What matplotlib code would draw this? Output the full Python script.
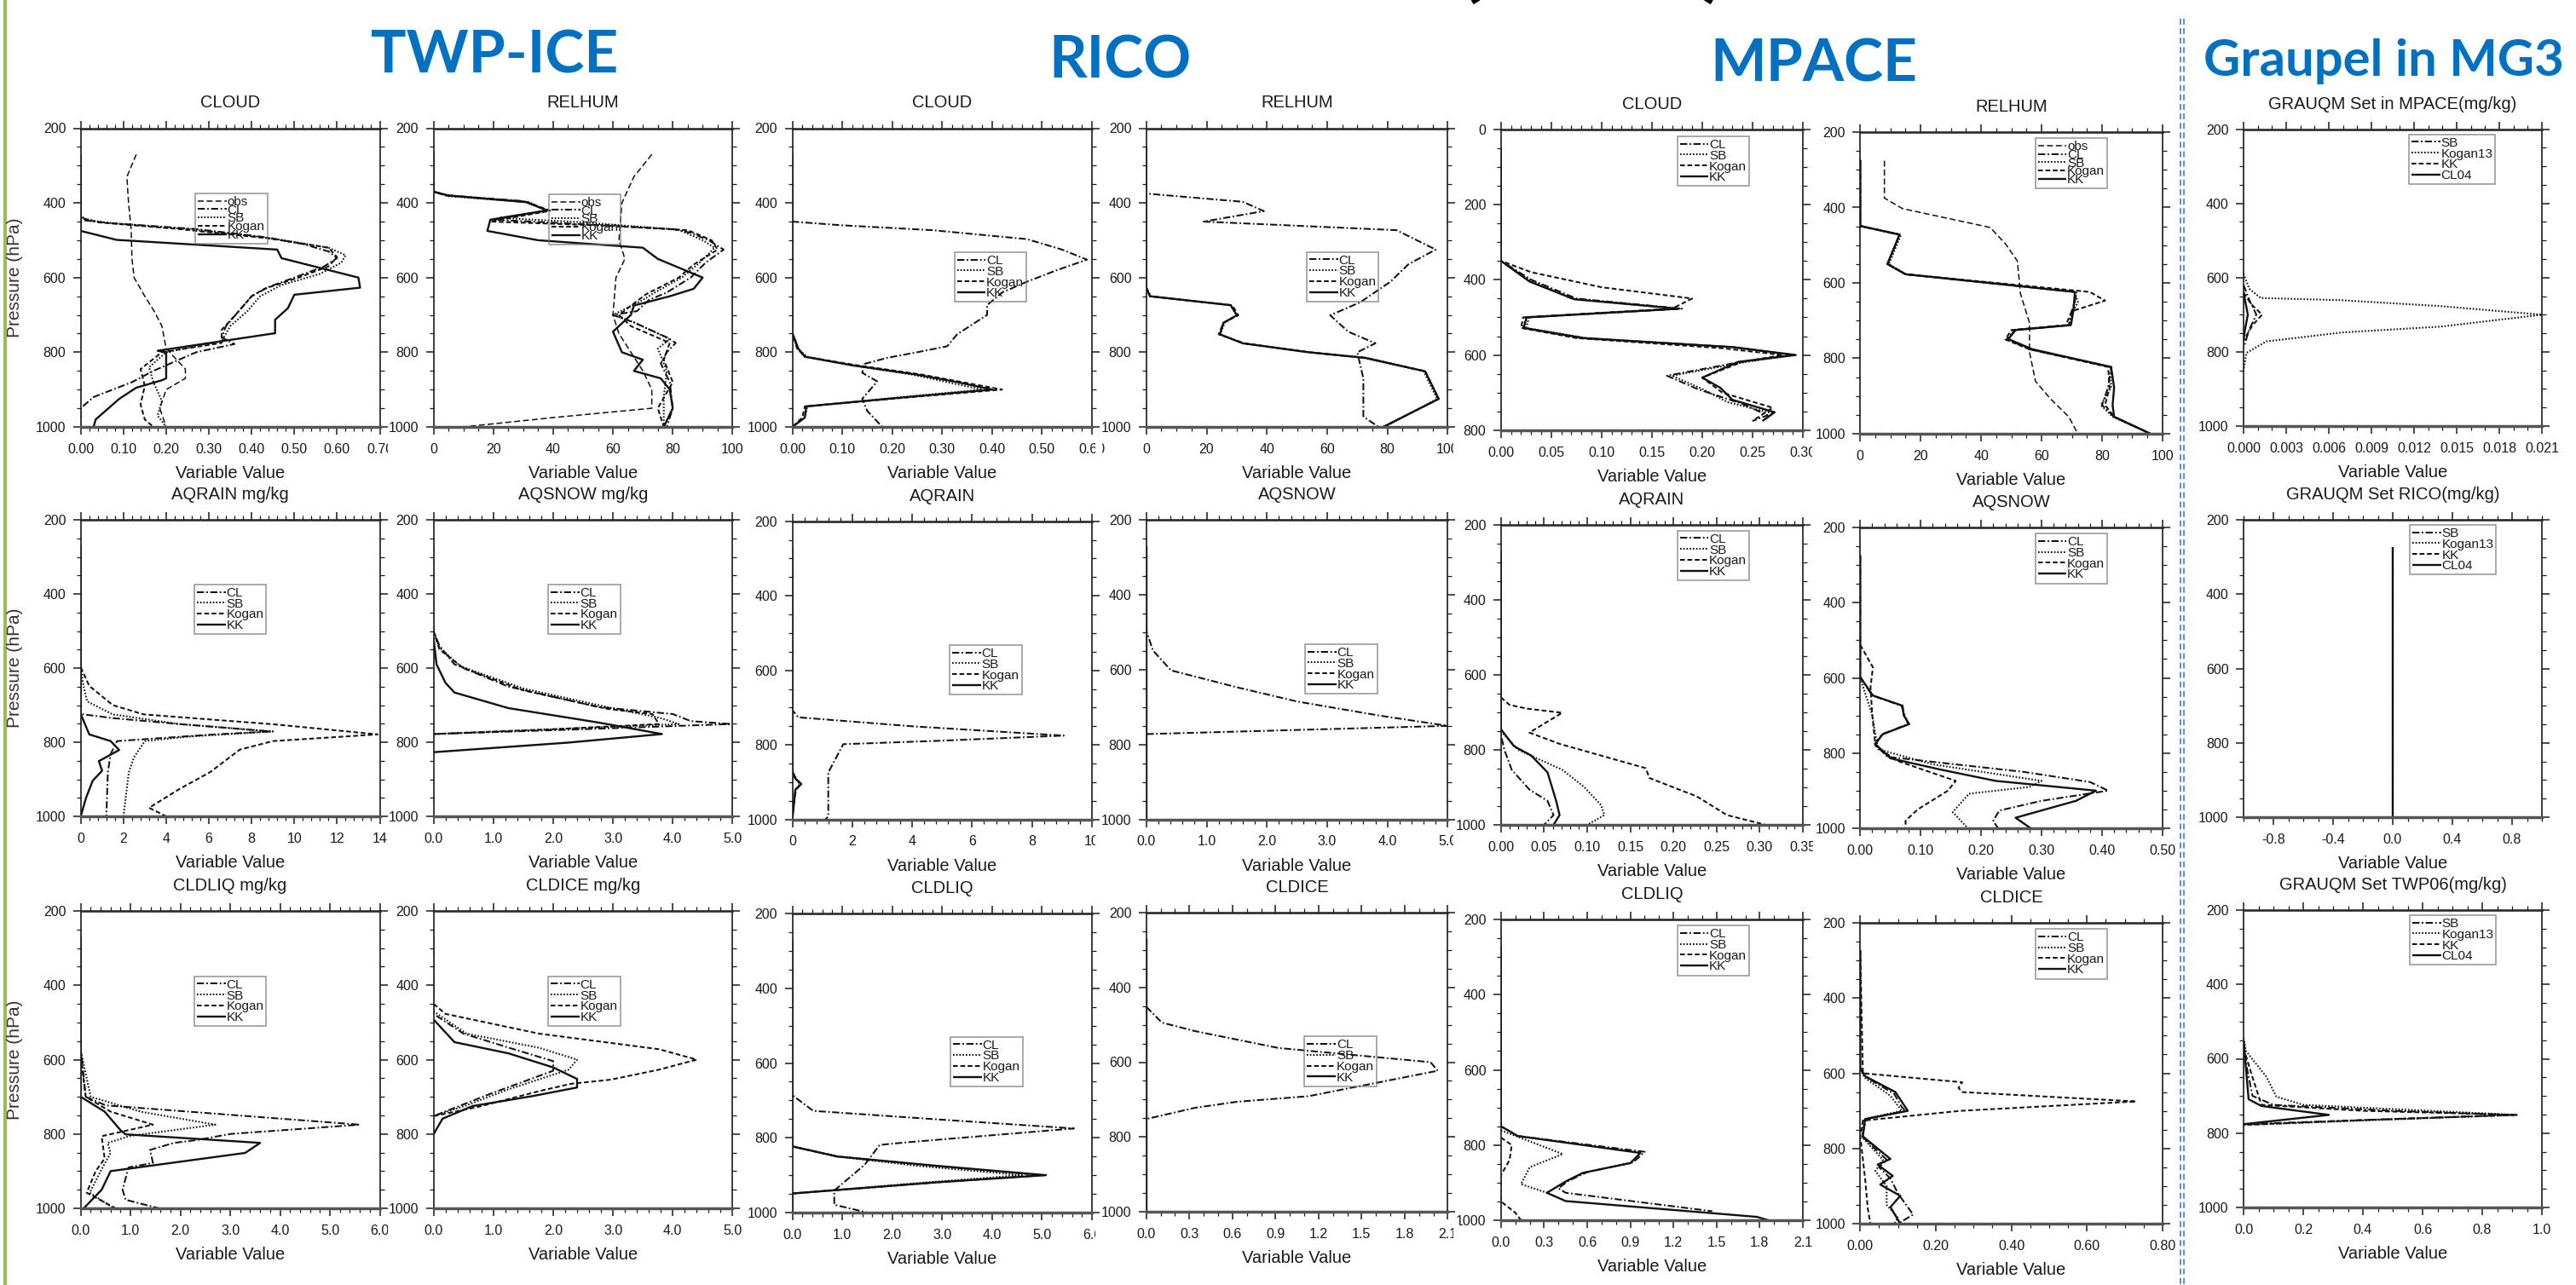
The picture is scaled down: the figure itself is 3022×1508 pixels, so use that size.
import matplotlib
matplotlib.use("Agg")
import matplotlib.pyplot as plt
from matplotlib.lines import Line2D
from matplotlib.patches import Rectangle
from matplotlib.ticker import MultipleLocator

W, H, DPI = 3022, 1508, 100
plt.rcParams['font.family'] = ['Liberation Sans', 'DejaVu Sans']
plt.rcParams['lines.scale_dashes'] = False

# ------------------------------------------------------------------ DATA
# each series: list of (pressure hPa, value)
# Row 1 -- TWP-ICE CLOUD
twp_cloud_obs = [(270,0.13),(330,0.108),(400,0.112),(470,0.118),(550,0.12),(600,0.125),(650,0.15),(690,0.172),(730,0.19),(790,0.2),(845,0.245),(870,0.245),(900,0.2),(950,0.185),(1000,0.2)]
twp_cloud_cl = [(270,0),(430,0),(447,0.01),(455,0.08),(470,0.27),(490,0.42),(510,0.52),(530,0.58),(548,0.6),(570,0.57),(600,0.5),(625,0.44),(650,0.4),(690,0.37),(730,0.34),(760,0.33),(778,0.36),(800,0.27),(830,0.21),(850,0.17),(880,0.12),(920,0.03),(950,0.0),(1000,0.0)]
twp_cloud_sb = [(270,0),(440,0),(452,0.05),(470,0.25),(495,0.45),(520,0.58),(540,0.62),(560,0.61),(590,0.56),(620,0.47),(650,0.42),(690,0.39),(730,0.35),(770,0.33),(800,0.2),(840,0.16),(880,0.17),(930,0.19),(970,0.18),(1000,0.2)]
twp_cloud_kogan = [(270,0),(440,0),(452,0.04),(470,0.23),(495,0.44),(520,0.58),(545,0.6),(570,0.58),(600,0.51),(630,0.43),(650,0.4),(690,0.37),(740,0.33),(775,0.33),(800,0.19),(845,0.14),(890,0.15),(940,0.14),(980,0.15),(1000,0.17)]
twp_cloud_kk = [(270,0),(475,0),(499,0.084),(525,0.46),(548,0.47),(600,0.65),(627,0.654),(646,0.5),(682,0.485),(713,0.455),(749,0.455),(796,0.18),(800,0.2),(870,0.2),(875,0.19),(895,0.13),(925,0.09),(980,0.035),(1000,0.03)]
# TWP-ICE RELHUM
twp_rh_obs = [(270,73),(330,67),(400,63),(500,62),(550,64),(600,61),(700,60),(750,62),(800,66),(850,70),(900,73),(950,73),(975,40),(1000,10)]
twp_rh_cl = [(265,0),(370,0),(380,5),(395,30),(420,38),(445,20),(455,45),(470,80),(480,86),(500,92),(525,97),(560,91),(600,86),(640,78),(660,72),(690,68),(700,60),(720,67),(760,78),(775,81),(800,78),(830,76),(880,79),(950,80),(1000,78)]
twp_rh_sb = [(265,0),(370,0),(382,5),(398,32),(422,38),(440,22),(452,50),(472,82),(500,90),(520,94),(560,89),(600,83),(640,74),(660,70),(700,60),(720,67),(765,79),(790,75),(850,78),(920,77),(1000,77)]
twp_rh_kogan = [(265,0),(370,0),(380,4),(397,31),(421,39),(450,19),(460,55),(473,85),(500,93),(525,95),(565,87),(600,82),(645,71),(700,62),(730,66),(775,79),(820,77),(880,80),(950,75),(1000,77)]
twp_rh_kk = [(265,0),(370,0),(380,5),(398,31),(420,38),(445,19),(475,18),(500,35),(520,70),(550,75),(600,90),(630,87),(650,79),(675,67),(700,66),(745,60),(800,63),(820,70),(850,67),(870,76),(900,79),(950,80),(1000,77)]
# RICO CLOUD
rico_cloud_cl = [(270,0),(450,0),(460,0.1),(473,0.28),(497,0.47),(525,0.54),(552,0.59),(580,0.53),(611,0.47),(640,0.42),(674,0.39),(700,0.39),(752,0.33),(784,0.31),(800,0.25),(815,0.19),(831,0.145),(855,0.14),(878,0.17),(925,0.14),(957,0.15),(1000,0.18)]
rico_cloud_sb = [(270,0),(750,0),(790,0.01),(812,0.03),(835,0.12),(860,0.24),(880,0.31),(900,0.38),(920,0.22),(945,0.03),(975,0.025),(1000,0)]
rico_cloud_kogan = [(270,0),(750,0),(790,0.01),(812,0.025),(835,0.13),(860,0.26),(880,0.34),(900,0.42),(920,0.24),(945,0.025),(975,0.02),(1000,0)]
rico_cloud_kk = [(270,0),(748,0),(790,0.012),(812,0.025),(835,0.12),(860,0.25),(880,0.33),(900,0.4),(920,0.23),(945,0.028),(975,0.025),(1000,0)]
# RICO RELHUM
rico_rh_cl = [(250,0),(375,0),(397,32),(422,39),(450,19),(473,83),(525,96),(564,87),(611,81),(666,71),(701,61),(745,67),(776,76),(800,70),(870,72),(972,72),(1000,77)]
rico_rh_sb = [(250,0),(627,0),(650,1.5),(674,28),(701,30),(721,26),(752,24.5),(776,32),(800,54),(815,72),(851,92),(925,96.5),(1000,79)]
rico_rh_kogan = [(250,0),(627,0),(650,1.2),(674,28.5),(701,30.5),(721,25.6),(752,24),(776,32.5),(800,54),(815,73),(851,92.5),(925,97),(1000,78.6)]
rico_rh_kk = [(250,0),(627,0),(650,1.2),(674,28),(701,30),(721,25.6),(752,24.4),(776,32),(800,53.8),(815,72.6),(851,92.5),(925,97),(1000,78.6)]
# MPACE CLOUD (level axis 0-800)
mpace_cloud_cl = [(50,0),(350,0),(400,0.03),(450,0.075),(477,0.18),(500,0.025),(528,0.022),(555,0.08),(579,0.23),(600,0.29),(620,0.235),(655,0.165),(690,0.195),(730,0.24),(760,0.265),(775,0.25)]
mpace_cloud_sb = [(50,0),(350,0),(400,0.028),(450,0.07),(477,0.175),(500,0.028),(528,0.025),(555,0.085),(580,0.235),(600,0.29),(620,0.24),(655,0.17),(690,0.2),(725,0.225),(755,0.27),(775,0.26)]
mpace_cloud_kogan = [(50,0),(350,0),(380,0.03),(420,0.1),(450,0.19),(477,0.17),(500,0.022),(528,0.02),(555,0.075),(582,0.22),(600,0.28),(618,0.24),(660,0.2),(700,0.22),(740,0.27),(775,0.25)]
mpace_cloud_kk = [(50,0),(350,0),(405,0.0285),(452,0.073),(477,0.177),(500,0.0255),(528,0.0226),(555,0.082),(579,0.23),(600,0.293),(618,0.236),(660,0.2),(687,0.218),(719,0.23),(752,0.272),(775,0.26)]
# MPACE RELHUM
mpace_rh_obs = [(276,8),(375,8),(403,14),(453,43),(496,48),(542,52),(628,53),(706,56),(784,56),(861,58),(908,63),(955,69),(1000,72)]
mpace_rh_cl = [(274,0),(449,0),(472,13),(550,9),(577,15),(624,71.5),(650,71),(675,70),(712,69),(725,51),(749,48.5),(776,56),(823,83),(877,82),(924,80),(955,84),(1000,96)]
mpace_rh_sb = [(274,0),(449,0),(472,13.5),(550,9.5),(577,15),(624,71),(650,72),(675,70.5),(712,69),(725,51),(749,49),(776,56.5),(823,83),(877,83),(924,79.6),(955,83.5),(1000,96)]
mpace_rh_kogan = [(274,0),(449,0),(472,13),(550,9),(577,15),(624,76),(647,81),(675,70),(712,68),(725,50),(750,48),(776,56),(823,82),(877,82.5),(924,81),(955,84),(1000,96)]
mpace_rh_kk = [(274,0),(449,0),(472,13),(550,9),(577,15),(624,71),(628,71),(675,70.5),(712,69.7),(725,51.4),(749,49),(776,57),(823,83),(877,84),(924,83.5),(955,84),(1000,96)]
# Graupel MPACE
gr_mpace_sb = [(620,0),(660,0.0004),(700,0.0009),(740,0.0004),(790,0)]
gr_mpace_kogan13 = [(590,0),(630,0.0004),(655,0.0012),(661,0.0069),(677,0.0139),(700,0.021),(732,0.0139),(748,0.0069),(772,0.0016),(803,0.0002),(850,0)]
gr_mpace_kk = [(640,0),(670,0.0005),(700,0.0013),(730,0.0006),(770,0)]
gr_mpace_cl04 = [(640,0),(680,0.0002),(700,0.0003),(740,0.0001),(770,0)]

# Row 2 -- TWP-ICE AQRAIN
twp_rain_cl = [(270,0),(724,0),(735,1.5),(751,4.6),(771,8.9),(780,6.0),(797,1.7),(832,1.4),(881,1.27),(1000,1.2)]
twp_rain_sb = [(590,0),(640,0.1),(690,0.3),(725,1.5),(751,4.6),(771,9.0),(785,5.0),(797,3.0),(840,2.5),(881,2.25),(1000,2.0)]
twp_rain_kogan = [(598,0),(648,0.4),(700,1.5),(725,2.95),(752,9.1),(779,13.9),(797,9.0),(820,7.45),(881,6.05),(927,4.6),(977,3.2),(1000,4.0)]
twp_rain_kk = [(269,0),(724,0),(779,0.4),(797,1.4),(821,1.8),(851,0.85),(877,1.0),(904,0.56),(950,0.25),(1000,0)]
# TWP-ICE AQSNOW
twp_snow_cl = [(270,0),(500,0),(540,0.1),(590,0.35),(650,1.25),(705,2.76),(724,4.0),(743,4.3),(751,4.97),(765,2.5),(778,0)]
twp_snow_sb = [(500,0),(545,0.1),(595,0.45),(655,1.5),(705,2.9),(735,3.8),(751,4.1),(765,2.0),(778,0)]
twp_snow_kogan = [(500,0),(550,0.1),(600,0.5),(660,1.5),(710,2.9),(724,3.66),(751,3.77),(765,2.0),(778,0)]
twp_snow_kk = [(520,0),(590,0.05),(640,0.2),(666,0.35),(708,1.25),(747,2.76),(778,3.82),(801,2.26),(827,0)]
# RICO AQRAIN
rico_rain_cl = [(270,0),(707,0),(726,0.2),(750,4.0),(775,9.06),(789,4.86),(798,1.7),(874,1.2),(992,1.2),(1000,1.1)]
rico_rain_sb = [(270,0),(870,0),(890,0.1),(905,0.25),(920,0.1),(960,0.05),(1000,0)]
rico_rain_kogan = [(270,0),(870,0),(890,0.12),(905,0.3),(920,0.12),(960,0.05),(1000,0)]
rico_rain_kk = [(270,0),(870,0),(890,0.1),(905,0.3),(920,0.1),(960,0.05),(1000,0)]
# RICO AQSNOW
rico_snow_cl = [(270,0),(496,0),(549,0.11),(602,0.41),(647,1.5),(685,2.5),(723,3.88),(750,5.0),(772,0)]
rico_snow_sb = [(270,0),(1000,0)]
rico_snow_kogan = [(270,0),(1000,0)]
rico_snow_kk = [(270,0),(1000,0)]
# MPACE AQRAIN
mpace_rain_cl = [(270,0),(760,0),(800,0.004),(853,0.0125),(906,0.033),(936,0.054),(974,0.061),(1000,0.05)]
mpace_rain_sb = [(750,0),(800,0.02),(853,0.071),(898,0.096),(947,0.116),(974,0.12),(1000,0.1)]
mpace_rain_kogan = [(660,0),(680,0.01),(690,0.03),(701,0.071),(754,0.033),(784,0.068),(849,0.168),(875,0.172),(924,0.227),(974,0.262),(1000,0.307)]
mpace_rain_kk = [(270,0),(745,0),(790,0.015),(815,0.035),(860,0.054),(936,0.064),(974,0.068),(1000,0.061)]
# MPACE AQSNOW
mpace_snow_cl = [(274,0),(598,0),(647,0.02),(674,0.068),(723,0.079),(750,0.036),(776,0.024),(810,0.045),(850,0.27),(877,0.38),(900,0.41),(927,0.3),(953,0.23),(980,0.22),(1000,0.228)]
mpace_snow_sb = [(600,0),(650,0.01),(700,0.02),(750,0.025),(790,0.03),(830,0.12),(874,0.3),(890,0.28),(908,0.18),(957,0.153),(1000,0.178)]
mpace_snow_kogan = [(512,0),(572,0.021),(625,0.017),(700,0.02),(780,0.025),(820,0.06),(874,0.158),(900,0.145),(950,0.095),(980,0.075),(1000,0.075)]
mpace_snow_kk = [(274,0),(598,0),(647,0.021),(674,0.07),(700,0.072),(723,0.081),(750,0.037),(776,0.025),(814,0.05),(844,0.133),(874,0.224),(900,0.39),(927,0.357),(972,0.257),(1000,0.282)]
# Graupel RICO
gr_rico_sb = [(273,0),(1000,0)]
gr_rico_kogan13 = [(273,0),(1000,0)]
gr_rico_kk = [(273,0),(1000,0)]
gr_rico_cl04 = [(273,0),(1000,0)]

# Row 3 -- TWP-ICE CLDLIQ
twp_liq_cl = [(270,0),(568,0),(700,0.1),(723,0.5),(775,5.6),(800,3.0),(816,2.35),(824,1.87),(843,1.39),(878,1.45),(890,0.96),(950,0.84),(977,0.9),(1000,1.57)]
twp_liq_sb = [(270,0),(576,0),(700,0.2),(740,1.2),(775,2.7),(805,1.0),(824,0.54),(851,0.6),(900,0.4),(958,0.18),(1000,0.66)]
twp_liq_kogan = [(591,0),(700,0.1),(740,0.6),(775,1.45),(806,0.42),(866,0.48),(900,0.3),(958,0.12),(1000,0.7)]
twp_liq_kk = [(270,0),(700,0),(740,0.48),(790,0.8),(801,0.9),(824,3.6),(851,3.3),(900,0.6),(950,0.42),(1000,0.06)]
# TWP-ICE CLDICE
twp_ice_cl = [(270,0),(477,0),(530,0.5),(570,1.3),(604,2.0),(630,2.0),(692,0.95),(752,0)]
twp_ice_sb = [(470,0),(530,0.55),(568,1.76),(600,2.4),(627,2.26),(680,1.25),(723,0.55),(752,0)]
twp_ice_kogan = [(450,0),(477,0.2),(530,1.76),(572,3.77),(600,4.4),(627,3.77),(654,2.96),(665,2.3),(685,1.76),(727,0.75),(752,0)]
twp_ice_kk = [(492,0),(553,0.35),(583,1.25),(621,2.0),(652,2.4),(675,2.4),(698,1.66),(725,0.65),(759,0.15),(801,0)]
# RICO CLDLIQ
rico_liq_cl = [(270,0),(686,0),(728,0.42),(751,2.93),(775,5.64),(812,2.3),(819,1.75),(872,1.45),(941,0.84),(979,0.84),(1000,1.5)]
rico_liq_sb = [(270,0),(823,0),(850,0.9),(875,2.5),(900,4.6),(919,2.7),(949,0),(1000,0)]
rico_liq_kogan = [(270,0),(823,0),(850,0.9),(875,2.8),(900,5.0),(919,2.9),(949,0),(1000,0)]
rico_liq_kk = [(270,0),(823,0),(850,0.9),(875,2.9),(900,5.08),(919,2.9),(949,0),(1000,0)]
# RICO CLDICE
rico_ice_cl = [(452,0),(494,0.108),(517,0.34),(562,0.92),(600,1.98),(623,2.03),(691,1.13),(706,0.63),(722,0.34),(752,0)]
rico_ice_sb = [(270,0),(1000,0)]
rico_ice_kogan = [(270,0),(1000,0)]
rico_ice_kk = [(270,0),(1000,0)]
# MPACE CLDLIQ
mpace_liq_cl = [(270,0),(750,0),(776,0.12),(818,1.0),(846,0.92),(872,0.6),(895,0.47),(915,0.4),(927,0.45),(976,1.47)]
mpace_liq_sb = [(761,0),(790,0.2),(824,0.43),(859,0.2),(904,0.14),(927,0.32)]
mpace_liq_kogan = [(780,0),(800,0.075),(840,0.06),(880,0.0),(950,0.0),(980,0.1),(1000,0.14)]
mpace_liq_kk = [(270,0),(750,0),(776,0.116),(821,0.97),(848,0.9),(874,0.57),(897,0.45),(927,0.32),(949,0.45),(991,1.78),(1000,1.86)]
# MPACE CLDICE
mpace_ice_cl = [(273,0),(588,0),(610,0.015),(655,0.09),(690,0.11),(700,0.12),(722,0.015),(768,0.005),(830,0.07),(850,0.05),(880,0.08),(920,0.1),(976,0.14),(1000,0.1)]
mpace_ice_sb = [(590,0),(612,0.012),(660,0.08),(700,0.11),(722,0.01),(770,0.005),(830,0.06),(860,0.04),(900,0.07),(950,0.07),(985,0.1),(1000,0.09)]
mpace_ice_kogan = [(273,0),(600,0.007),(624,0.27),(639,0.26),(650,0.27),(675,0.73),(700,0.265),(726,0.007),(768,0),(881,0.013),(960,0.02),(1000,0.027)]
mpace_ice_kk = [(273,0),(586,0),(608,0.013),(650,0.093),(700,0.126),(722,0.013),(768,0.007),(828,0.08),(843,0.046),(873,0.086),(896,0.053),(926,0.106),(956,0.08),(1000,0.106)]
# Graupel TWP06
gr_twp_sb = [(551,0),(620,0.01),(700,0.03),(724,0.1),(740,0.5),(751,0.9),(762,0.5),(776,0)]
gr_twp_kogan13 = [(544,0),(579,0.008),(648,0.076),(702,0.11),(724,0.2),(751,0.916),(778,0)]
gr_twp_kk = [(571,0),(650,0.03),(724,0.06),(740,0.4),(751,0.916),(765,0.4),(778,0)]
gr_twp_cl04 = [(551,0),(709,0.017),(727,0.06),(751,0.286),(776,0)]

# legend labels
leg5 = ["obs", "CL", "SB", "Kogan", "KK"]
leg4 = ["CL", "SB", "Kogan", "KK"]
leg_gr = ["SB", "Kogan13", "KK", "CL04"]

# tick labels
y_ticks = ["200", "400", "600", "800", "1000"]
y_ticks_lev = ["0", "200", "400", "600", "800"]
xt_cloud07 = ["0.00", "0.10", "0.20", "0.30", "0.40", "0.50", "0.60", "0.70"]
xt_cloud06 = ["0.00", "0.10", "0.20", "0.30", "0.40", "0.50", "0.60"]
xt_cloud03 = ["0.00", "0.05", "0.10", "0.15", "0.20", "0.25", "0.30"]
xt_rh = ["0", "20", "40", "60", "80", "100"]
xt_gr021 = ["0.000", "0.003", "0.006", "0.009", "0.012", "0.015", "0.018", "0.021"]
xt_14 = ["0", "2", "4", "6", "8", "10", "12", "14"]
xt_10 = ["0", "2", "4", "6", "8", "10"]
xt_5 = ["0.0", "1.0", "2.0", "3.0", "4.0", "5.0"]
xt_6 = ["0.0", "1.0", "2.0", "3.0", "4.0", "5.0", "6.0"]
xt_035 = ["0.00", "0.05", "0.10", "0.15", "0.20", "0.25", "0.30", "0.35"]
xt_050 = ["0.00", "0.10", "0.20", "0.30", "0.40", "0.50"]
xt_pm1 = ["-0.8", "-0.4", "0.0", "0.4", "0.8"]
xt_21 = ["0.0", "0.3", "0.6", "0.9", "1.2", "1.5", "1.8", "2.1"]
xt_080 = ["0.00", "0.20", "0.40", "0.60", "0.80"]
xt_1 = ["0.0", "0.2", "0.4", "0.6", "0.8", "1.0"]

# ------------------------------------------------------------------ LAYOUT
fig = plt.figure(figsize=(W / DPI, H / DPI), dpi=DPI)
fig.patch.set_facecolor("white")

def fxp(x):
    return x / W

def fyp(y):
    return 1 - y / H

COLS = [(94.7, 445.5), (508.6, 859.4), (929.5, 1281), (1344.8, 1698.4),
        (1760.8, 2115), (2182.3, 2536.9), (2632, 2982)]
ROWS_Y = [
    [(150.5, 501), (150.5, 501), (150.5, 501), (150.5, 501), (151.5, 505), (155, 509), (151.5, 500)],
    [(610, 958), (610, 958), (611.7, 961.7), (610, 961.7), (616, 968), (619, 972), (610, 959)],
    [(1069, 1418), (1069, 1418), (1072, 1423), (1071, 1422), (1079, 1432), (1083, 1436), (1068, 1417)],
]
LEG_POS = [
    [(0.383, 0.782), (0.386, 0.779), (0.541, 0.585), (0.532, 0.586), (0.584, 0.976), (0.579, 0.98), (0.554, 0.982)],
    [(0.38, 0.782), (0.384, 0.782), (0.525, 0.585), (0.527, 0.585), (0.584, 0.981), (0.579, 0.98), (0.557, 0.983)],
    [(0.38, 0.78), (0.384, 0.78), (0.528, 0.588), (0.525, 0.586), (0.584, 0.98), (0.579, 0.98), (0.557, 0.983)],
]

STY_OBS = dict(ls=(0, (5, 2.5)), lw=1.1)
STY_DD = dict(ls=(0, (6, 2, 1.3, 2)), lw=1.45)
STY_DOT = dict(ls=(0, (1.2, 1.5)), lw=1.5)
STY_DASH = dict(ls=(0, (4, 2.2)), lw=1.45)
STY_SOLID = dict(ls='-', lw=1.7)
STY5 = [STY_OBS, STY_DD, STY_DOT, STY_DASH, STY_SOLID]
STY4 = [STY_DD, STY_DOT, STY_DASH, STY_SOLID]

LINE_COLOR = "#111111"
TXT = "#1a1a1a"


def panel(r, c, title, series, labels, xt, xminor, xlim=None, yt=None, ylim=(1000, 200)):
    x0, x1 = COLS[c]
    yt0, yb = ROWS_Y[r][c]
    ax = fig.add_axes([fxp(x0), fyp(yb), (x1 - x0) / W, (yb - yt0) / H])
    styles = STY5 if len(series) == 5 else STY4
    handles = []
    for data, st in zip(series, styles):
        pp = [d[0] for d in data]
        vv = [d[1] for d in data]
        ln, = ax.plot(vv, pp, color=LINE_COLOR, solid_capstyle='butt',
                      dash_capstyle='butt', **st)
        handles.append(ln)
    xv = [float(s) for s in xt]
    ax.set_xticks(xv, xt)
    if xlim is None:
        xlim = (xv[0], xv[-1])
    ax.set_xlim(*xlim)
    ax.xaxis.set_minor_locator(MultipleLocator(xminor))
    yt = yt if yt is not None else y_ticks
    ax.set_yticks([float(s) for s in yt], yt)
    ax.set_ylim(*ylim)
    ax.yaxis.set_minor_locator(MultipleLocator(50))
    ax.tick_params(which='both', direction='out', top=True, right=True,
                   labeltop=False, labelright=False, colors='#1a1a1a')
    ax.tick_params(which='major', length=6.5, width=1.1, labelsize=11.5)
    ax.tick_params(which='minor', length=3.5, width=0.9)
    ax.tick_params(axis='x', which='major', pad=7)
    ax.tick_params(axis='y', which='major', pad=6)
    for s in ('left', 'right'):
        ax.spines[s].set_linewidth(1.2)
        ax.spines[s].set_color('#1a1a1a')
    ax.spines['top'].set_linewidth(1.9)
    ax.spines['top'].set_color('#2a2a2a')
    ax.spines['bottom'].set_linewidth(2.5)
    ax.spines['bottom'].set_color('#555')
    lx, ly = LEG_POS[r][c]
    lsp = -0.28 if len(labels) == 5 else -0.08
    leg = ax.legend(handles, labels, loc='upper left', bbox_to_anchor=(lx, ly),
                    bbox_transform=ax.transAxes, fontsize=11, frameon=True,
                    fancybox=False, handlelength=2.2, handletextpad=0.05,
                    borderpad=0.2, labelspacing=lsp, borderaxespad=0.0)
    for t in leg.get_texts():
        t.set_color(TXT)
    fr = leg.get_frame()
    fr.set_edgecolor('#777')
    fr.set_linewidth(1.1)
    fr.set_facecolor('none')
    cx = (x0 + x1) / 2
    fig.text(fxp(cx), fyp(yt0 - 24), title, ha='center', va='baseline', fontsize=14.5, color=TXT)
    fig.text(fxp(cx), fyp(yb + 60), "Variable Value", ha='center', va='baseline', fontsize=14.5, color=TXT)
    if c == 0:
        fig.text(fxp(18), fyp((yt0 + yb) / 2), "Pressure (hPa)", rotation=90,
                 ha='center', va='center', fontsize=15, color='#333')
    return ax


# Row 1
panel(0, 0, "CLOUD", [twp_cloud_obs, twp_cloud_cl, twp_cloud_sb, twp_cloud_kogan, twp_cloud_kk], leg5, xt_cloud07, 0.02)
panel(0, 1, "RELHUM", [twp_rh_obs, twp_rh_cl, twp_rh_sb, twp_rh_kogan, twp_rh_kk], leg5, xt_rh, 5)
panel(0, 2, "CLOUD", [rico_cloud_cl, rico_cloud_sb, rico_cloud_kogan, rico_cloud_kk], leg4, xt_cloud06, 0.02)
panel(0, 3, "RELHUM", [rico_rh_cl, rico_rh_sb, rico_rh_kogan, rico_rh_kk], leg4, xt_rh, 5)
panel(0, 4, "CLOUD", [mpace_cloud_cl, mpace_cloud_sb, mpace_cloud_kogan, mpace_cloud_kk], leg4, xt_cloud03, 0.01,
      yt=y_ticks_lev, ylim=(800, 0))
panel(0, 5, "RELHUM", [mpace_rh_obs, mpace_rh_cl, mpace_rh_sb, mpace_rh_kogan, mpace_rh_kk], leg5, xt_rh, 5)
panel(0, 6, "GRAUQM Set in MPACE(mg/kg)", [gr_mpace_sb, gr_mpace_kogan13, gr_mpace_kk, gr_mpace_cl04], leg_gr, xt_gr021, 0.001)
# Row 2
panel(1, 0, "AQRAIN mg/kg", [twp_rain_cl, twp_rain_sb, twp_rain_kogan, twp_rain_kk], leg4, xt_14, 0.4)
panel(1, 1, "AQSNOW mg/kg", [twp_snow_cl, twp_snow_sb, twp_snow_kogan, twp_snow_kk], leg4, xt_5, 0.2)
panel(1, 2, "AQRAIN", [rico_rain_cl, rico_rain_sb, rico_rain_kogan, rico_rain_kk], leg4, xt_10, 0.4)
panel(1, 3, "AQSNOW", [rico_snow_cl, rico_snow_sb, rico_snow_kogan, rico_snow_kk], leg4, xt_5, 0.2)
panel(1, 4, "AQRAIN", [mpace_rain_cl, mpace_rain_sb, mpace_rain_kogan, mpace_rain_kk], leg4, xt_035, 0.01)
panel(1, 5, "AQSNOW", [mpace_snow_cl, mpace_snow_sb, mpace_snow_kogan, mpace_snow_kk], leg4, xt_050, 0.02)
panel(1, 6, "GRAUQM Set RICO(mg/kg)", [gr_rico_sb, gr_rico_kogan13, gr_rico_kk, gr_rico_cl04], leg_gr, xt_pm1, 0.1,
      xlim=(-1.0, 1.0))
# Row 3
panel(2, 0, "CLDLIQ mg/kg", [twp_liq_cl, twp_liq_sb, twp_liq_kogan, twp_liq_kk], leg4, xt_6, 0.2)
panel(2, 1, "CLDICE mg/kg", [twp_ice_cl, twp_ice_sb, twp_ice_kogan, twp_ice_kk], leg4, xt_5, 0.2)
panel(2, 2, "CLDLIQ", [rico_liq_cl, rico_liq_sb, rico_liq_kogan, rico_liq_kk], leg4, xt_6, 0.2)
panel(2, 3, "CLDICE", [rico_ice_cl, rico_ice_sb, rico_ice_kogan, rico_ice_kk], leg4, xt_21, 0.1)
panel(2, 4, "CLDLIQ", [mpace_liq_cl, mpace_liq_sb, mpace_liq_kogan, mpace_liq_kk], leg4, xt_21, 0.1)
panel(2, 5, "CLDICE", [mpace_ice_cl, mpace_ice_sb, mpace_ice_kogan, mpace_ice_kk], leg4, xt_080, 0.05)
panel(2, 6, "GRAUQM Set TWP06(mg/kg)", [gr_twp_sb, gr_twp_kogan13, gr_twp_kk, gr_twp_cl04], leg_gr, xt_1, 0.05)

# clipped edges of the pasted panel images (white masks)
CLIPS = [(455, 463, 512, 545), (1284.5, 1293, 512, 545), (1705, 1712, 512, 545), (2125.5, 2133, 519, 545),
         (1284.5, 1293, 975, 1012), (1705, 1712, 975, 1012), (2127, 2133, 982, 1012),
         (455, 463, 1432, 1465), (1284.5, 1293, 1432, 1465), (1705, 1712, 1432, 1465)]
for (a, b, t, u) in CLIPS:
    fig.add_artist(Rectangle((fxp(a), fyp(u)), (b - a) / W, (u - t) / H, transform=fig.transFigure,
                             facecolor='white', edgecolor='none', zorder=5))

# headers
BLUE = "#0070C0"
HFONT = ['Lato', 'DejaVu Sans']
fig.text(fxp(580), fyp(86), "TWP-ICE", ha='center', va='baseline', fontsize=50, fontweight='bold',
         color=BLUE, family=HFONT)
fig.text(fxp(1314), fyp(91), "RICO", ha='center', va='baseline', fontsize=50, fontweight='bold',
         color=BLUE, family=HFONT)
fig.text(fxp(2128), fyp(95), "MPACE", ha='center', va='baseline', fontsize=50, fontweight='bold',
         color=BLUE, family=HFONT)
fig.text(fxp(2796), fyp(89), "Graupel in MG3", ha='center', va='baseline', fontsize=43, fontweight='bold',
         color=BLUE, family=HFONT)
# main slide title, cut off by the top edge in the source (only the paren tails show)
fig.text(fxp(1868), fyp(-13), "(MG3)", ha='center', va='baseline', fontsize=82, fontweight='bold',
         color='black', family=HFONT)

# left green rule and blue dashed separator
fig.add_artist(Line2D([fxp(6), fxp(6)], [0, 1], transform=fig.transFigure, color='#9BBB59', lw=3.0))
for xx in (2557.5, 2561.5):
    fig.add_artist(Line2D([fxp(xx), fxp(xx)], [fyp(22), 0], transform=fig.transFigure,
                          color='#4F86CF', lw=1.3, ls=(0, (5, 3))))

fig.savefig("out.png", dpi=DPI)
